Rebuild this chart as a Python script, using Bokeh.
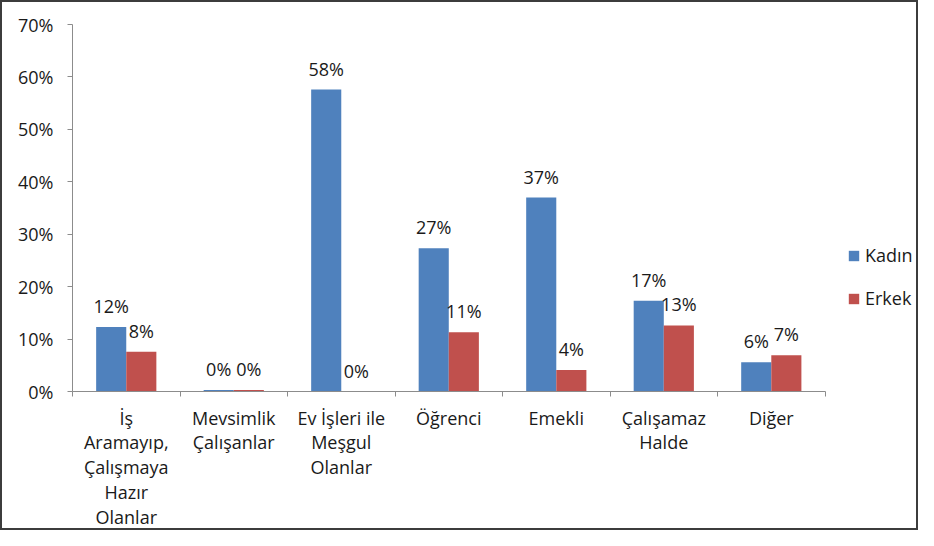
from bokeh.plotting import figure
from bokeh.models import Range1d, FixedTicker, NumeralTickFormatter, ColumnDataSource, Legend, LegendItem
from bokeh.embed import file_html
from bokeh.resources import INLINE
from bokeh.core.properties import value

categories = ["İş\nAramayıp,\nÇalışmaya\nHazır\nOlanlar", "Mevsimlik\nÇalışanlar",
              "Ev İşleri ile\nMeşgul\nOlanlar", "Öğrenci", "Emekli", "Çalışamaz\nHalde", "Diğer"]
kadin = [0.123, 0.003, 0.576, 0.273, 0.370, 0.173, 0.056]
erkek = [0.076, 0.003, 0.0, 0.113, 0.041, 0.126, 0.069]
series_names = ["Kadın", "Erkek"]
colors = ["#4F81BD", "#C0504D"]
y_ticks = [0, 0.1, 0.2, 0.3, 0.4, 0.5, 0.6, 0.7]

FONT = "Open Sans"
FS = "18px"

W, H = 918, 530
BL, BR, BT, BB = 70, 0, 22, 140
n = len(categories)
# frame spans 2+BL .. 2+(W-4)-BR ; categories occupy the first 749 px
frame_w = (W - 4) - BL - BR
cat_px = 749.0 / n
x_end = frame_w / cat_px

p = figure(width=W, height=H, output_backend="svg", toolbar_location=None,
           x_range=Range1d(0, x_end), y_range=Range1d(0, 0.7),
           min_border_left=BL, min_border_right=BR, min_border_top=BT, min_border_bottom=BB)
p.styles = {"border": "2px solid #3c3c3c"}
p.outline_line_color = None
p.xgrid.visible = False
p.ygrid.visible = False

bw = 0.28
renderers = []
for k, (vals, col) in enumerate(zip([kadin, erkek], colors)):
    xs = [i + 0.5 + (k - 0.5) * bw for i in range(n)]
    src = ColumnDataSource(dict(x=xs, top=vals,
                                lab=[f"{round(v * 100)}%" for v in vals]))
    r = p.vbar(x="x", top="top", width=bw, bottom=0, source=src,
               fill_color=col, line_color=None)
    renderers.append(r)
    p.text(x="x", y="top", text="lab", source=src, text_align="center",
           text_baseline="alphabetic", y_offset=-21, text_font=value(FONT),
           text_font_size=FS, text_color="#1a1a1a")

# y axis
ya = p.yaxis[0]
ya.ticker = FixedTicker(ticks=y_ticks)
ya.formatter = NumeralTickFormatter(format="0%")
ya.axis_line_color = "#8c8c8c"
ya.major_tick_line_color = "#8c8c8c"
ya.major_tick_out = 5
ya.major_tick_in = 0
ya.minor_tick_line_color = None
ya.major_label_standoff = 14
ya.major_label_text_font = FONT
ya.major_label_text_font_size = FS
ya.major_label_text_color = "#1a1a1a"

# x axis
xa = p.xaxis[0]
centers = [i + 0.5 for i in range(n)]
xa.ticker = FixedTicker(ticks=centers, minor_ticks=list(range(n + 1)))
xa.major_label_overrides = {c: lab for c, lab in zip(centers, categories)}
xa.bounds = (0, n)
xa.axis_line_color = "#8c8c8c"
xa.major_tick_line_color = None
xa.minor_tick_line_color = "#8c8c8c"
xa.minor_tick_out = 5
xa.minor_tick_in = 0
xa.major_label_standoff = 8
xa.major_label_text_font = FONT
xa.major_label_text_font_size = FS
xa.major_label_text_color = "#1a1a1a"
xa.major_label_text_line_height = 1.04

legend = Legend(items=[LegendItem(label=nm, renderers=[r]) for nm, r in zip(series_names, renderers)],
                location=(775, 81), orientation="vertical",
                glyph_width=13, glyph_height=13, label_height=20, spacing=19,
                label_standoff=5, padding=0, margin=0, border_line_color=None,
                background_fill_alpha=0,
                label_text_font=FONT, label_text_font_size=FS, label_text_color="#1a1a1a")
p.add_layout(legend, "center")

open("out.html", "w").write(file_html(p, INLINE))
